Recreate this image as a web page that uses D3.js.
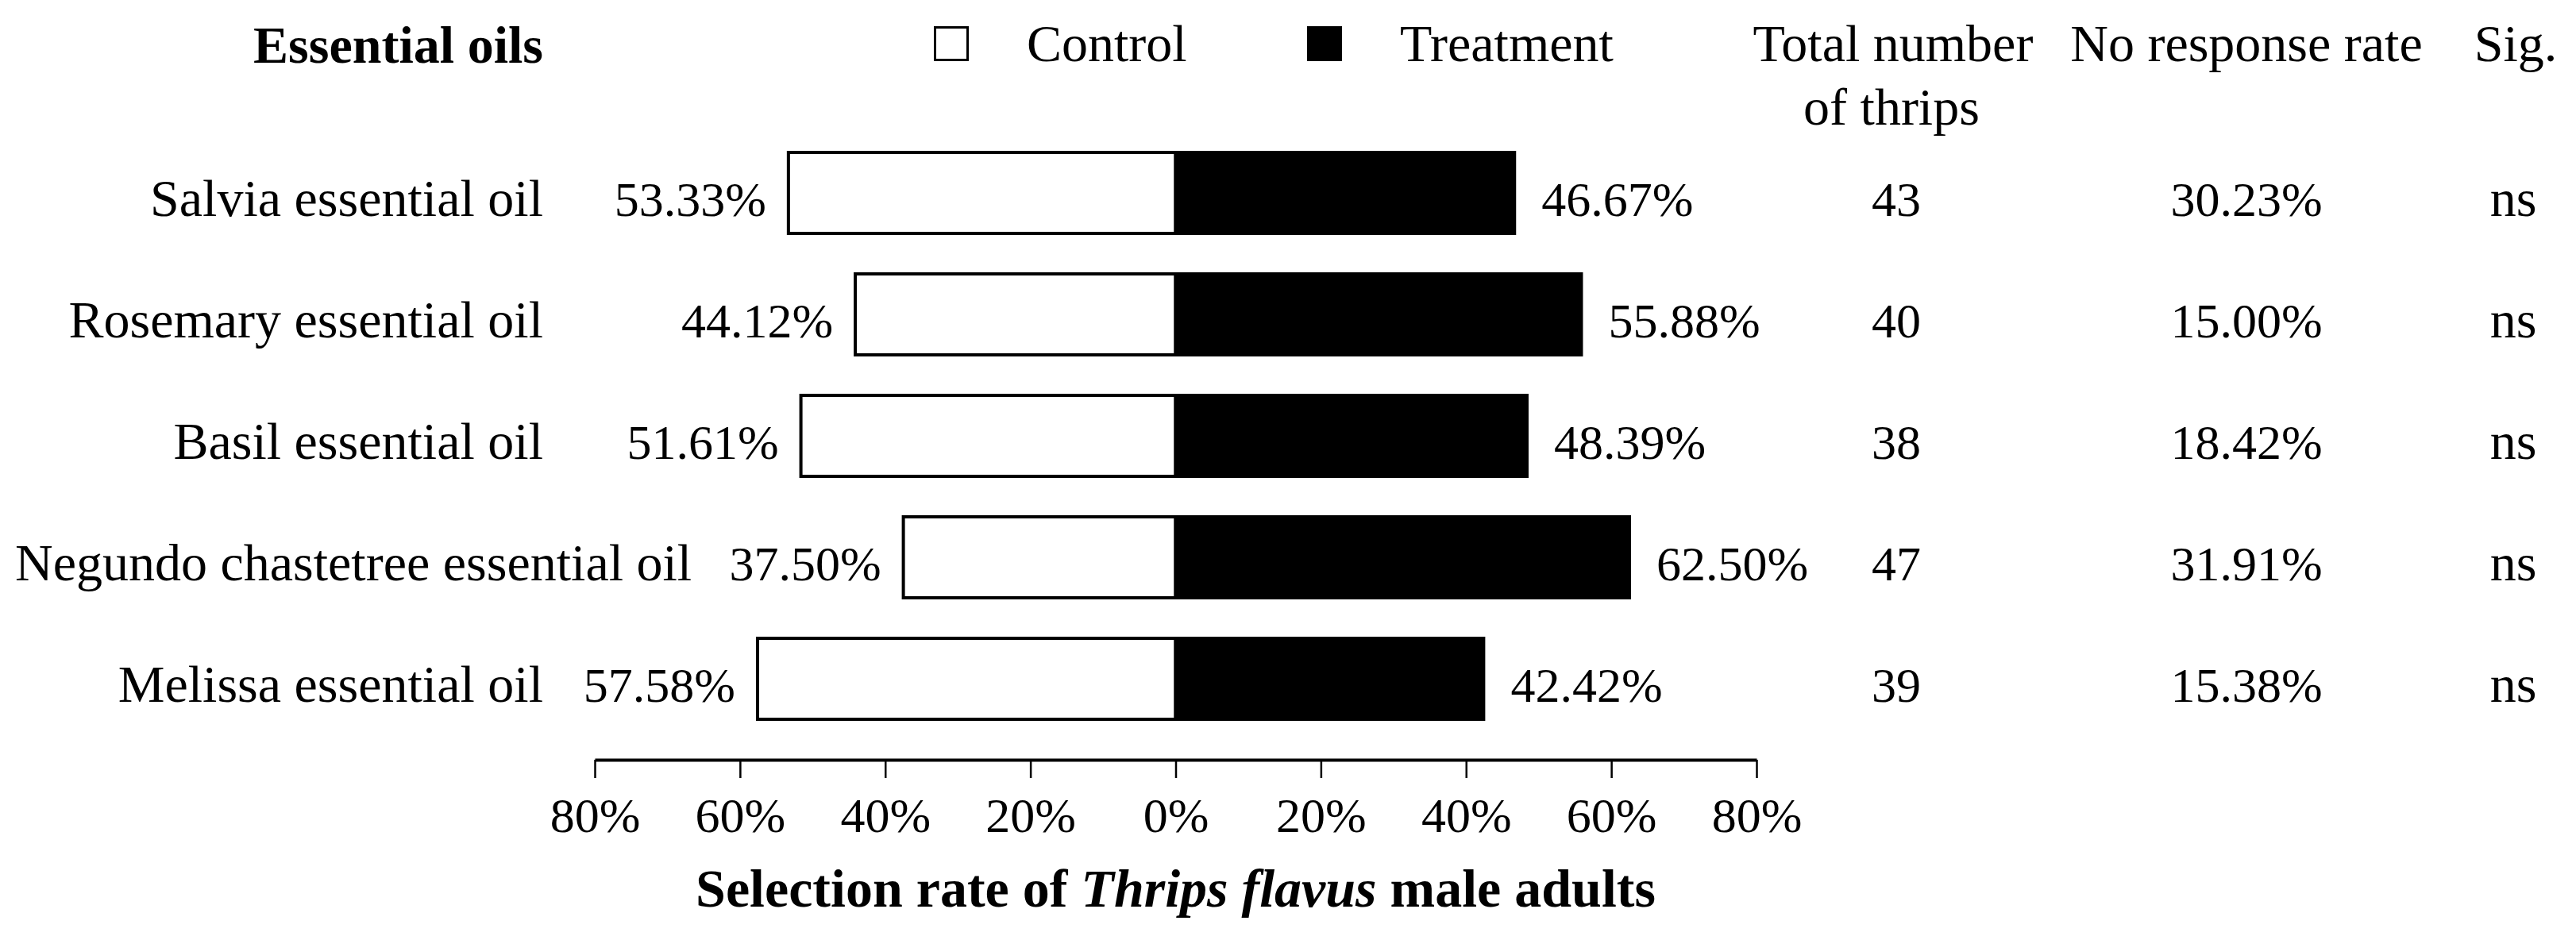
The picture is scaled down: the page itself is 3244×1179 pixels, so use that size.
<!DOCTYPE html>
<html>
<head>
<meta charset="utf-8">
<script src="https://cdn.jsdelivr.net/npm/d3@7/dist/d3.min.js"></script>
<style>
  html, body { margin: 0; padding: 0; background: #fff; }
  svg { display: block; }
  text { font-family: "Liberation Serif", "Times New Roman", Times, serif; fill: #000; }
</style>
</head>
<body>
<svg id="chart" width="3244" height="1179"></svg>
<script>
// ---- data ----
const categories = ["Salvia essential oil", "Rosemary essential oil", "Basil essential oil", "Negundo chastetree essential oil", "Melissa essential oil"];
const controlValues = [53.33, 44.12, 51.61, 37.50, 57.58];
const treatmentValues = [46.67, 55.88, 48.39, 62.50, 42.42];
const totalThrips = [43, 40, 38, 47, 39];
const noResponseRate = ["30.23%", "15.00%", "18.42%", "31.91%", "15.38%"];
const significance = ["ns", "ns", "ns", "ns", "ns"];
const tickValues = [-80, -60, -40, -20, 0, 20, 40, 60, 80];
const legendLabels = ["Control", "Treatment"];

// ---- layout ----
const W = 3244, H = 1179;
const svg = d3.select("#chart");
const labelFont = 66, numFont = 62;

const x = d3.scaleLinear().domain([-80, 80]).range([749, 2212]);
const y = d3.scaleBand().domain(categories).range([166.5, 931.5])
  .paddingInner(1/3).paddingOuter(1/6);

const rows = categories.map((c, i) => ({
  cat: c, ctrl: controlValues[i], trt: treatmentValues[i],
  total: totalThrips[i], nr: noResponseRate[i], sig: significance[i]
}));

// bars
const g = svg.append("g");
g.selectAll("rect.ctrl").data(rows).join("rect")
  .attr("class", "ctrl")
  .attr("x", d => x(-d.ctrl))
  .attr("y", d => y(d.cat))
  .attr("width", d => x(0) - x(-d.ctrl))
  .attr("height", y.bandwidth())
  .attr("fill", "#fff").attr("stroke", "#000").attr("stroke-width", 4);
g.selectAll("rect.trt").data(rows).join("rect")
  .attr("class", "trt")
  .attr("x", x(0))
  .attr("y", d => y(d.cat))
  .attr("width", d => x(d.trt) - x(0))
  .attr("height", y.bandwidth())
  .attr("fill", "#000").attr("stroke", "#000").attr("stroke-width", 4);

const baseOff = 29;
const fmt = v => v.toFixed(2) + "%";

// value labels
g.selectAll("text.lv").data(rows).join("text")
  .attr("class", "lv")
  .attr("x", d => x(-d.ctrl) - 28)
  .attr("y", d => y(d.cat) + y.bandwidth() / 2 + baseOff)
  .attr("text-anchor", "end").attr("font-size", numFont)
  .text(d => fmt(d.ctrl));
g.selectAll("text.rv").data(rows).join("text")
  .attr("class", "rv")
  .attr("x", d => x(d.trt) + 34)
  .attr("y", d => y(d.cat) + y.bandwidth() / 2 + baseOff)
  .attr("text-anchor", "start").attr("font-size", numFont)
  .text(d => fmt(d.trt));

// category labels (right aligned; long ones start near left edge)
const labelRight = 684, labelMinLeft = 19;
g.selectAll("text.cat").data(rows).join("text")
  .attr("class", "cat")
  .attr("x", labelRight)
  .attr("y", d => y(d.cat) + y.bandwidth() / 2 + baseOff)
  .attr("text-anchor", "end").attr("font-size", labelFont)
  .text(d => d.cat)
  .each(function() {
    const w = this.getComputedTextLength();
    if (labelRight - w < labelMinLeft) {
      d3.select(this).attr("text-anchor", "start").attr("x", labelMinLeft);
    }
  });

// table columns
const colTotal = 2388, colNR = 2829, colSig = 3165;
g.selectAll("text.tot").data(rows).join("text")
  .attr("x", colTotal).attr("y", d => y(d.cat) + y.bandwidth() / 2 + baseOff)
  .attr("text-anchor", "middle").attr("font-size", numFont).text(d => d.total);
g.selectAll("text.nr").data(rows).join("text")
  .attr("x", colNR).attr("y", d => y(d.cat) + y.bandwidth() / 2 + baseOff)
  .attr("text-anchor", "middle").attr("font-size", numFont).text(d => d.nr);
g.selectAll("text.sig").data(rows).join("text")
  .attr("x", colSig).attr("y", d => y(d.cat) + y.bandwidth() / 2 + baseOff)
  .attr("text-anchor", "middle").attr("font-size", labelFont).text(d => d.sig);

// headers
svg.append("text").attr("x", labelRight).attr("y", 79)
  .attr("text-anchor", "end").attr("font-size", labelFont).attr("font-weight", "bold")
  .text("Essential oils");
svg.append("text").attr("x", 2384).attr("y", 77).attr("text-anchor", "middle")
  .attr("font-size", labelFont).text("Total number");
svg.append("text").attr("x", 2382).attr("y", 157).attr("text-anchor", "middle")
  .attr("font-size", labelFont).text("of thrips");
svg.append("text").attr("x", colNR).attr("y", 77).attr("text-anchor", "middle")
  .attr("font-size", labelFont).text("No response rate");
svg.append("text").attr("x", 3168).attr("y", 77).attr("text-anchor", "middle")
  .attr("font-size", labelFont).text("Sig.");

// legend
const legendX = [1176, 1646];
legendLabels.forEach((lab, i) => {
  svg.append("rect").attr("x", legendX[i] + 1.5).attr("y", 34.5)
    .attr("width", 41).attr("height", 41)
    .attr("fill", i === 0 ? "#fff" : "#000").attr("stroke", "#000").attr("stroke-width", 3);
  svg.append("text").attr("x", legendX[i] + 117).attr("y", 77)
    .attr("font-size", labelFont).text(lab);
});

// x axis
const axisY = 957;
const axis = d3.axisBottom(x).tickValues(tickValues)
  .tickFormat(d => Math.abs(d) + "%").tickSize(23).tickSizeOuter(0).tickPadding(24);
const ax = svg.append("g").attr("transform", `translate(0,${axisY})`).call(axis);
ax.select(".domain").attr("stroke", "#000").attr("stroke-width", 4);
ax.selectAll(".tick line").attr("stroke", "#000").attr("stroke-width", 2.5);
ax.selectAll(".tick text").attr("font-size", numFont)
  .attr("font-family", '"Liberation Serif", "Times New Roman", serif').attr("fill", "#000");

// axis title
const title = svg.append("text").attr("x", x(0)).attr("y", 1142)
  .attr("text-anchor", "middle").attr("font-size", 68).attr("font-weight", "bold");
title.append("tspan").text("Selection rate of ");
title.append("tspan").attr("font-style", "italic").text("Thrips flavus");
title.append("tspan").text(" male adults");
</script>
</body>
</html>
